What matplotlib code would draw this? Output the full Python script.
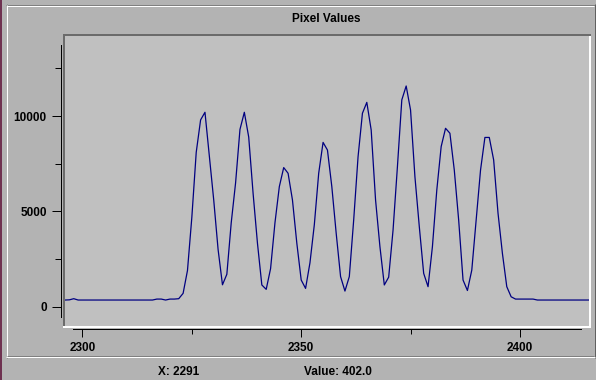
import numpy as np
import matplotlib
matplotlib.use("Agg")
import matplotlib.pyplot as plt
from matplotlib.lines import Line2D
from matplotlib.patches import Rectangle

# ---- data ----
title = "Pixel Values"
x_start = 2295
pixel_values = [
    350, 350, 360, 420,
    350, 350, 350, 350, 350, 350, 350, 350, 350, 350, 350, 350, 350, 350, 350, 350, 350, 350,
    400, 400, 350, 400, 400, 420, 700, 1900, 4700, 8100, 9800, 10200, 7900, 5600, 3000, 1150,
    1700, 4400, 6500, 9300, 10200, 8900, 5950, 3330, 1140, 910,
    2000, 4400, 6300, 7300, 7000, 5600, 3330, 1400, 960,
    2300, 4300, 7000, 8620, 8220, 6300, 3850, 1580, 820,
    1580, 4550, 7870, 10150, 10720, 9270, 5600, 3150, 1140,
    1550, 4020, 7350, 10850, 11580, 10320, 6820, 4200, 1750, 1050,
    3150, 6120, 8400, 9360, 9100, 7170, 4550, 1400, 850,
    1920, 4550, 7170, 8880, 8880, 7700, 4900, 2800, 1050, 520, 400,
    400, 400, 400, 400,
    350, 350, 350, 350, 350, 350, 350, 350, 350, 350, 350, 350, 350,
]
x_major = [2300, 2350, 2400]
x_minor = [2325, 2375]
y_major = [0, 5000, 10000]
y_minor = [2500, 7500, 12500]
status_x = "X: 2291"
status_value = "Value: 402.0"

xs = np.arange(x_start, x_start + len(pixel_values))

# ---- layout (pixel geometry) ----
W, H = 596, 380
X0PX, XS = 82.5, 4.374      # px of x=2300, px per unit
Y0PX, YS = 306.7, 0.01906   # px of y=0, px per unit value

def fx(p):
    return p / W

def fy(p):
    return 1 - p / H

def xval(px):
    return 2300 + (px - X0PX) / XS

def yval(py):
    return (Y0PX - py) / YS

BG = "#b3b3b3"
PLOT_BG = "#c0c0c0"
DARK = "#6b6b6b"
FONT = dict(family=["Liberation Sans", "DejaVu Sans"], weight="bold", size=8.5)
PT = 0.72  # points per pixel

fig = plt.figure(figsize=(W / 100, H / 100), dpi=100)
fig.patch.set_facecolor(BG)

# main plot panel
L, R, T, B = 63.5, 590, 35, 327
ax = fig.add_axes([fx(L), fy(B), (R - L) / W, (B - T) / H])
ax.set_facecolor(PLOT_BG)
ax.plot(xs, pixel_values, color="#000080", lw=0.9)
ax.set_xlim(xval(L), xval(R))
ax.set_ylim(yval(B), yval(T))
ax.set_xticks([])
ax.set_yticks([])
for s in ("top", "left"):
    ax.spines[s].set_color(DARK)
    ax.spines[s].set_linewidth(2 * PT)
for s in ("bottom", "right"):
    ax.spines[s].set_color("white")
    ax.spines[s].set_linewidth(2 * PT)

# separate x axis
xl, xr, xyp = 73, 581, 329
axx = fig.add_axes([fx(xl), fy(xyp), (xr - xl) / W, 0.0001])
axx.patch.set_visible(False)
for s in ("top", "left", "right"):
    axx.spines[s].set_visible(False)
axx.spines["bottom"].set_linewidth(PT)
axx.set_xlim(xval(xl), xval(xr))
axx.set_yticks([])
axx.set_xticks(x_major)
axx.set_xticks(x_minor, minor=True)
axx.set_xticklabels([str(v) for v in x_major], fontdict=FONT)
axx.tick_params(axis="x", which="major", length=8 * PT, width=PT, pad=3.4 * PT * 1.39, direction="out")
axx.tick_params(axis="x", which="minor", length=5 * PT, width=PT, direction="out")

# separate y axis
yx, yb, yt = 60.7, 317, 45
axy = fig.add_axes([fx(yx), fy(yb), 0.0001, (yb - yt) / H])
axy.patch.set_visible(False)
for s in ("top", "bottom", "right"):
    axy.spines[s].set_visible(False)
axy.spines["left"].set_linewidth(PT)
axy.set_ylim(yval(yb), yval(yt))
axy.set_xticks([])
axy.set_yticks(y_major)
axy.set_yticks(y_minor, minor=True)
axy.set_yticklabels([str(v) for v in y_major], fontdict=FONT)
axy.tick_params(axis="y", which="major", length=9 * PT, width=PT, pad=5 * PT, direction="out")
axy.tick_params(axis="y", which="minor", length=6 * PT, width=PT, direction="out")

# title and status texts
fig.text(fx(326), fy(19.3), title, ha="center", va="center", **FONT)
fig.text(fx(157.8), fy(372), status_x, ha="left", va="center", **FONT)
fig.text(fx(304.2), fy(372), status_value, ha="left", va="center", **FONT)

# window border strip and etched panel border
fig.add_artist(Rectangle((0, 0), fx(2), 1, transform=fig.transFigure,
                         facecolor="#6e3150", edgecolor="none"))

def hline(x0, x1, y, color):
    fig.add_artist(Line2D([fx(x0), fx(x1)], [fy(y), fy(y)], transform=fig.transFigure,
                          color=color, lw=PT, solid_capstyle="butt"))

def vline(x, y0, y1, color):
    fig.add_artist(Line2D([fx(x), fx(x)], [fy(y0), fy(y1)], transform=fig.transFigure,
                          color=color, lw=PT, solid_capstyle="butt"))

hline(6, 595, 4.5, "#808080")
hline(7, 594, 5.5, "white")
vline(6.5, 4, 358, "#808080")
vline(7.5, 5, 357, "white")
vline(594.5, 4, 358, "#606060")
hline(7, 594, 355.5, "#808080")
hline(6, 595, 357, "white")

fig.savefig("out.png", dpi=100, facecolor=fig.get_facecolor())
